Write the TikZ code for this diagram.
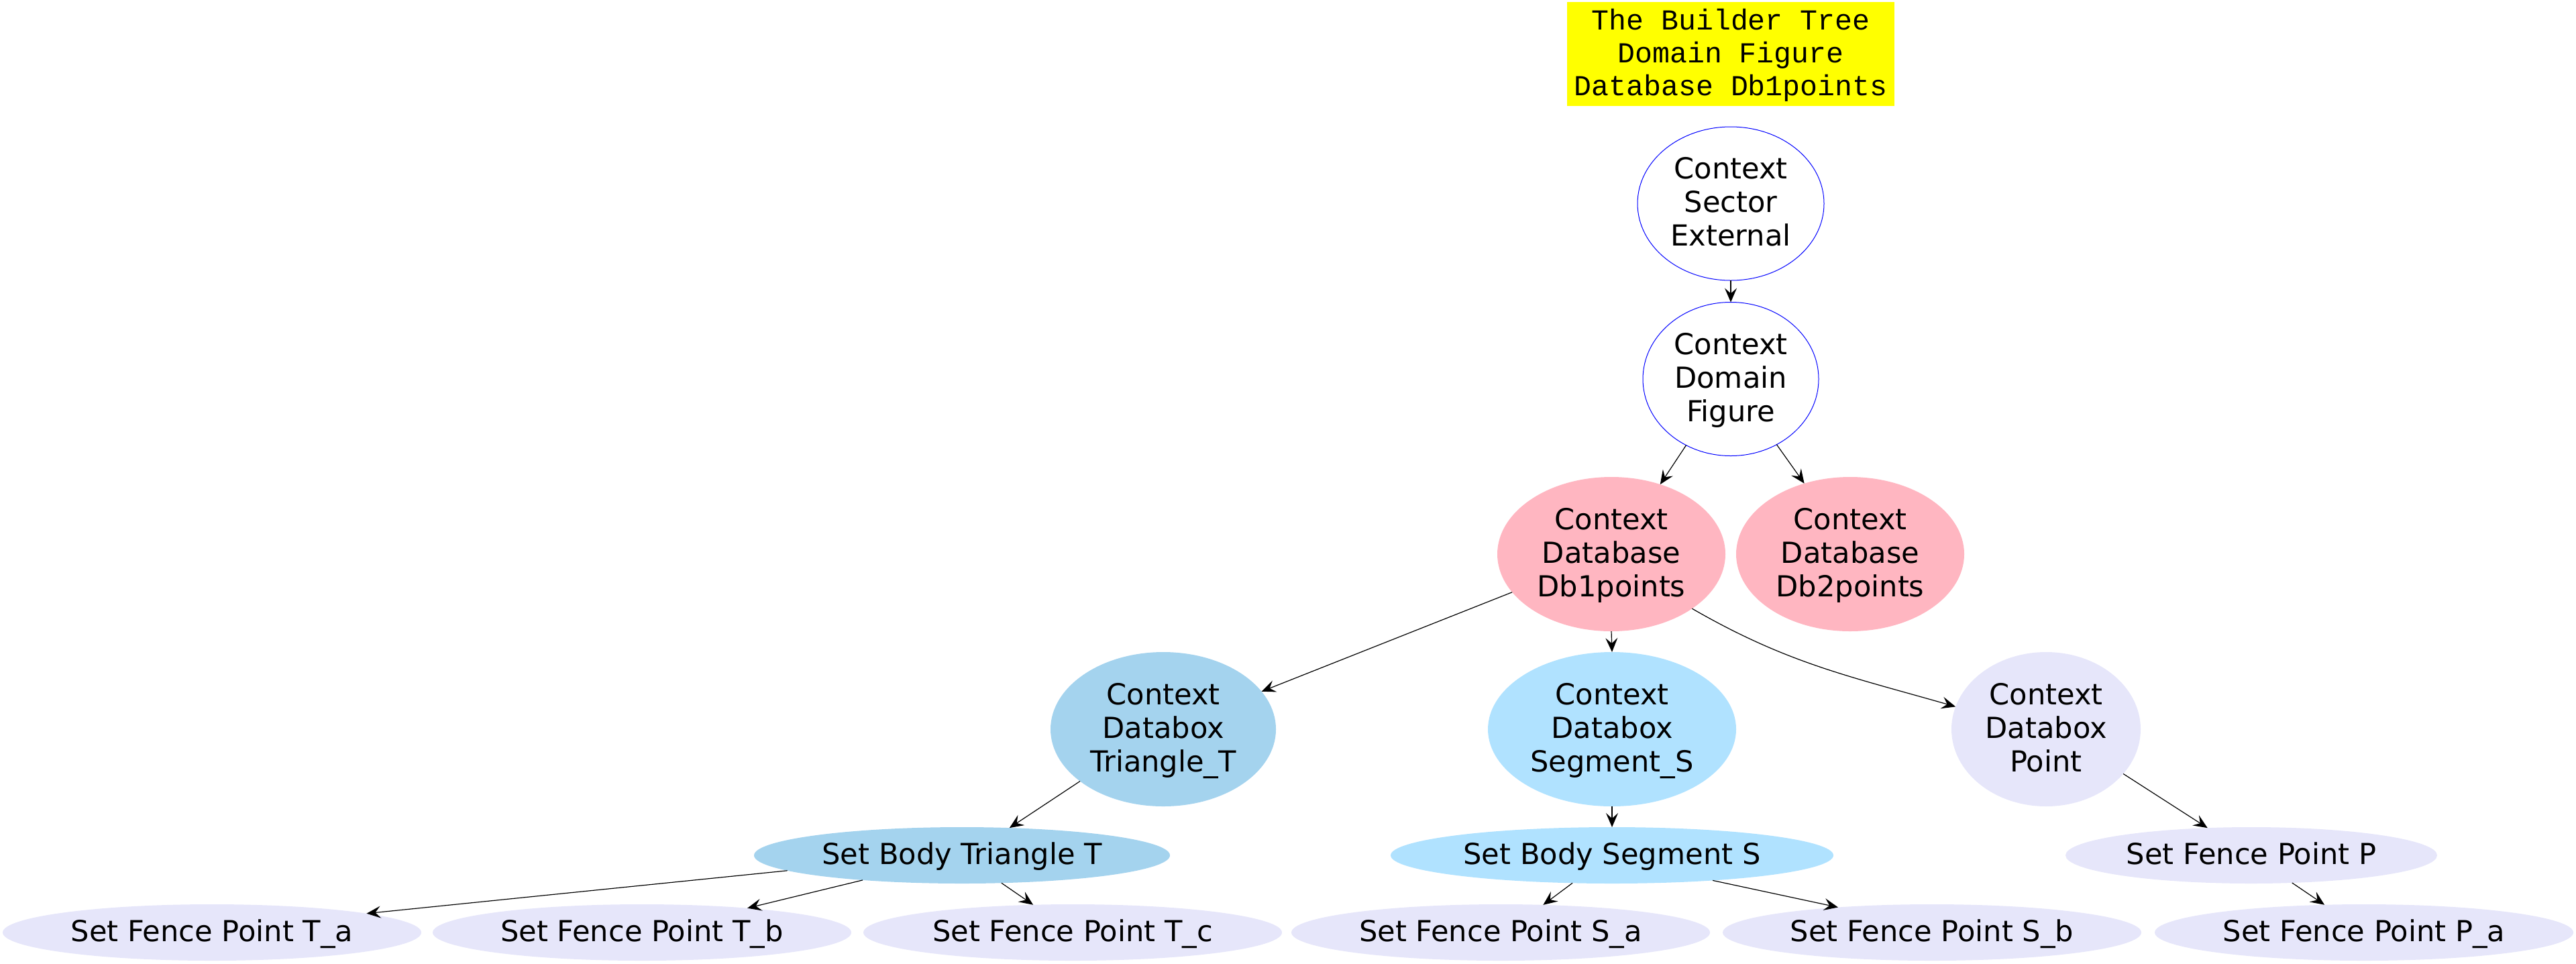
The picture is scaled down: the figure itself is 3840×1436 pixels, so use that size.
\documentclass[tikz,border=0pt]{standalone}
\usepackage{fontspec}
\setmainfont{DejaVu Sans}
\newfontfamily\monofont{Liberation Mono}
\usetikzlibrary{shapes.geometric,arrows.meta}
\definecolor{pinkc}{HTML}{FFB6C1}
\definecolor{tric}{HTML}{A4D3EE}
\definecolor{segc}{HTML}{B0E2FF}
\definecolor{lavc}{HTML}{E6E6FA}
\definecolor{titlec}{HTML}{FFFF00}
\newcommand\lbl[1]{\makebox[0pt]{\raisebox{-3.5pt}[0pt][0pt]{\begin{tabular}[c]{@{}c@{}}#1\end{tabular}}}}
\begin{document}
\begin{tikzpicture}[x=0.25pt,y=-0.25pt,
  ell/.style={ellipse, inner sep=0pt, outer sep=0pt, font=\fontsize{10.8pt}{12.5pt}\selectfont},
  ctxw/.style={ell, draw=blue, line width=0.25pt, fill=white, minimum height=57.25pt},
  ctxdb/.style={ell, fill=pinkc, minimum width=85pt, minimum height=57.5pt},
  ctxbox/.style={ell, minimum height=57.5pt},
  setn/.style={ell, minimum height=21pt},
  fence/.style={setn, fill=lavc, minimum width=156pt},
  titlebox/.style={rectangle, fill=titlec, inner sep=0pt, minimum width=122pt, minimum height=38.75pt, font=\monofont\fontsize{10.8pt}{12.25pt}\selectfont},
  edge/.style={draw=black, line width=0.3pt, -{Stealth[length=5.25pt, width=4.5pt, inset=2pt]}}]
\useasboundingbox (0,0) rectangle (3840,1436);

\node[titlebox] (title) at (2580,80.5) {\lbl{The Builder Tree\\Domain Figure\\Database Db1points}};

\node[ctxw, minimum width=69.5pt] (se) at (2580,303.5) {\lbl{Context\\Sector\\External}};
\node[ctxw, minimum width=65.5pt] (df) at (2580,565) {\lbl{Context\\Domain\\Figure}};

\node[ctxdb] (db1) at (2402,826) {\lbl{Context\\Database\\Db1points}};
\node[ctxdb] (db2) at (2758,826) {\lbl{Context\\Database\\Db2points}};

\node[ctxbox, fill=tric, minimum width=84pt] (tri) at (1734,1087) {\lbl{Context\\Databox\\Triangle\_T}};
\node[ctxbox, fill=segc, minimum width=92.5pt] (seg) at (2403,1087) {\lbl{Context\\Databox\\Segment\_S}};
\node[ctxbox, fill=lavc, minimum width=70.5pt] (pt) at (3050,1087) {\lbl{Context\\Databox\\Point}};

\node[setn, fill=tric, minimum width=155pt] (sbt) at (1434,1275) {\lbl{Set Body Triangle T}};
\node[setn, fill=segc, minimum width=165pt] (sbs) at (2403,1275) {\lbl{Set Body Segment S}};
\node[setn, fill=lavc, minimum width=138.5pt] (sfp) at (3356,1275) {\lbl{Set Fence Point P}};

\node[fence] (ta) at (316,1390) {\lbl{Set Fence Point T\_a}};
\node[fence] (tb) at (957,1390) {\lbl{Set Fence Point T\_b}};
\node[fence] (tc) at (1599,1390) {\lbl{Set Fence Point T\_c}};
\node[fence] (sa) at (2237,1390) {\lbl{Set Fence Point S\_a}};
\node[fence] (sb) at (2880,1390) {\lbl{Set Fence Point S\_b}};
\node[fence] (pa) at (3524,1390) {\lbl{Set Fence Point P\_a}};

\draw[edge] (se.-90) -- (df.90);
\draw[edge] (df.-124.4) -- (db1.55.8);
\draw[edge] (df.-55.6) -- (db2.123.8);
\draw[edge] (db1.201.3) -- (tri.21.2);
\draw[edge] (db1.-90) -- (seg.90);
\draw[edge] (db1.-34.6) to[out=-30,in=164] (pt.166);
\draw[edge] (tri.-148.2) -- (sbt.30.3);
\draw[edge] (seg.-90) -- (sbs.90);
\draw[edge] (pt.-30.8) -- (sfp.148.8);
\draw[edge] (sbt.-175.2) -- (ta.7.8);
\draw[edge] (sbt.-166) -- (tb.13.3);
\draw[edge] (sbt.-35.5) -- (tc.145.5);
\draw[edge] (sbs.-145) -- (sa.33.1);
\draw[edge] (sbs.-14) -- (sb.165.3);
\draw[edge] (sfp.-34.3) -- (pa.145.6);
\end{tikzpicture}
\end{document}
